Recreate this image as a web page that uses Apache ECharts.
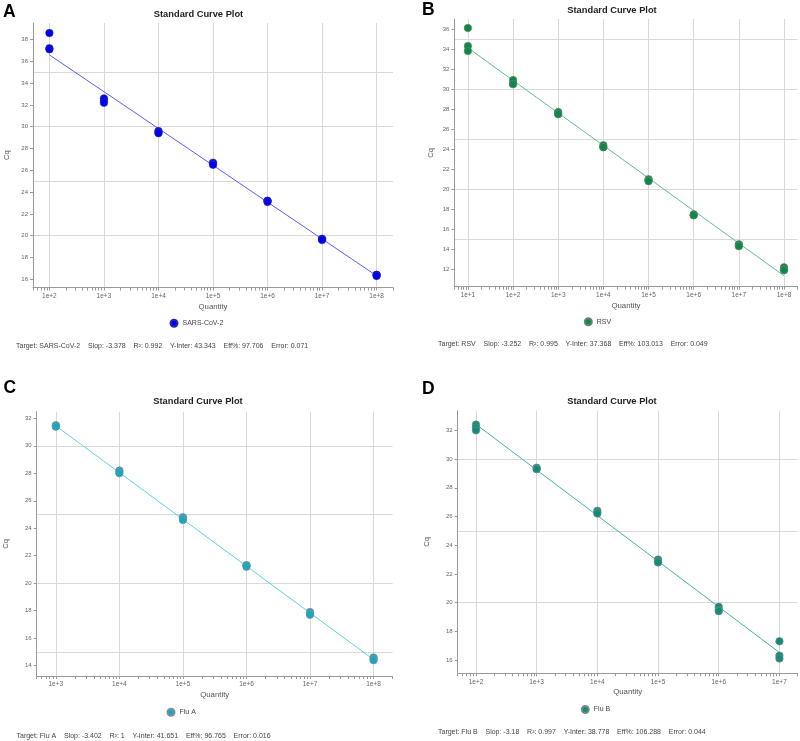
<!DOCTYPE html>
<html><head><meta charset="utf-8">
<script src="https://cdn.jsdelivr.net/npm/echarts@6/dist/echarts.min.js"></script>
<style>html,body{margin:0;padding:0;background:#fff}#c{width:800px;height:741px}</style>
</head><body><div id="c"></div>
<script>
// ---------- DATA ----------
// Panel A: SARS-CoV-2
const qtyA = [1e2,1e2,1e2, 1e3,1e3,1e3, 1e4,1e4,1e4, 1e5,1e5,1e5, 1e6,1e6,1e6, 1e7,1e7,1e7, 1e8,1e8,1e8];
const cqA  = [38.6,37.2,37.1, 32.6,32.4,32.2, 29.6,29.5,29.4, 26.7,26.6,26.5, 23.2,23.2,23.1, 19.7,19.7,19.6, 16.4,16.4,16.3];
const fitQtyA = [1e2, 1e8];
const fitCqA  = [36.59, 16.32];
const statsA = ['Target: SARS-CoV-2','Slop: -3.378','R²: 0.992','Y-Inter: 43.343','Eff%: 97.706','Error: 0.071'];
const xTicksA = [1e2,1e3,1e4,1e5,1e6,1e7,1e8];
const yTicksA = [16,18,20,22,24,26,28,30,32,34,36,38];

// Panel B: RSV
const qtyB = [1e1,1e1,1e1, 1e2,1e2,1e2, 1e3,1e3,1e3, 1e4,1e4,1e4, 1e5,1e5,1e5, 1e6,1e6,1e6, 1e7,1e7,1e7, 1e8,1e8,1e8];
const cqB  = [36.1,34.3,33.8, 30.9,30.5,30.5, 27.7,27.5,27.5, 24.4,24.2,24.2, 21.0,20.9,20.8, 17.5,17.4,17.4, 14.5,14.4,14.3, 12.2,12.0,11.9];
const fitQtyB = [1e1, 1e8];
const fitCqB  = [34.12, 11.35];
const statsB = ['Target: RSV','Slop: -3.252','R²: 0.995','Y-Inter: 37.368','Eff%: 103.013','Error: 0.049'];
const xTicksB = [1e1,1e2,1e3,1e4,1e5,1e6,1e7,1e8];
const yTicksB = [12,14,16,18,20,22,24,26,28,30,32,34,36];

// Panel C: Flu A
const qtyC = [1e3,1e3,1e3, 1e4,1e4,1e4, 1e5,1e5,1e5, 1e6,1e6,1e6, 1e7,1e7,1e7, 1e8,1e8,1e8];
const cqC  = [31.5,31.4,31.4, 28.2,28.1,28.0, 24.8,24.7,24.6, 21.3,21.3,21.2, 17.9,17.8,17.7, 14.6,14.5,14.4];
const fitQtyC = [1e3, 1e8];
const fitCqC  = [31.45, 14.44];
const statsC = ['Target: Flu A','Slop: -3.402','R²: 1','Y-Inter: 41.651','Eff%: 96.765','Error: 0.016'];
const xTicksC = [1e3,1e4,1e5,1e6,1e7,1e8];
const yTicksC = [14,16,18,20,22,24,26,28,30,32];

// Panel D: Flu B
const qtyD = [1e2,1e2,1e2, 1e3,1e3,1e3, 1e4,1e4,1e4, 1e5,1e5,1e5, 1e6,1e6,1e6, 1e7,1e7,1e7];
const cqD  = [32.4,32.2,32.0, 29.4,29.3,29.3, 26.4,26.3,26.2, 23.0,22.9,22.8, 19.7,19.5,19.4, 17.3,16.3,16.1];
const fitQtyD = [1e2, 1e7];
const fitCqD  = [32.42, 16.52];
const statsD = ['Target: Flu B','Slop: -3.18','R²: 0.997','Y-Inter: 38.778','Eff%: 106.288','Error: 0.044'];
const xTicksD = [1e2,1e3,1e4,1e5,1e6,1e7];
const yTicksD = [16,18,20,22,24,26,28,30,32];

const gridLinesY = [15,20,25,30,35];

// ---------- LAYOUT / STYLE ----------
const FONT = '"Liberation Sans", Arial, sans-serif';
const panels = [
  {letter:'A', name:'SARS-CoV-2', qty:qtyA, cq:cqA, fq:fitQtyA, fc:fitCqA, stats:statsA, xt:xTicksA, yt:yTicksA,
   grid:{left:33, top:23, width:360, height:264.5}, xMin:50, xMax:2e8, yMin:15.24, yMax:39.52,
   color:'#0000f0', border:'#2a2ab0', line:'#5c5cff', tx:198.5, ty:14, lx:3, ly:12, cqGap:22, leg:[169.5,318.7], foot:[16,346]},
  {letter:'B', name:'RSV', qty:qtyB, cq:cqB, fq:fitQtyB, fc:fitCqB, stats:statsB, xt:xTicksB, yt:yTicksB,
   grid:{left:454.3, top:19, width:343.3, height:267.7}, xMin:5, xMax:2e8, yMin:10.26, yMax:37.0,
   color:'#0b8a45', border:'#6f7f75', line:'#62c18f', tx:612, ty:10, lx:422, ly:10, cqGap:19.5, leg:[583.8,317.3], foot:[438,344]},
  {letter:'C', name:'Flu A', qty:qtyC, cq:cqC, fq:fitQtyC, fc:fitCqC, stats:statsC, xt:xTicksC, yt:yTicksC,
   grid:{left:36.7, top:411.7, width:356, height:264.3}, xMin:500, xMax:2e8, yMin:13.25, yMax:32.48,
   color:'#17a8bf', border:'#7f8f93', line:'#5fd2e2', tx:198, ty:401.7, lx:3.5, ly:388.5, cqGap:26.5, leg:[166.5,707.7], foot:[16.5,735.7]},
  {letter:'D', name:'Flu B', qty:qtyD, cq:cqD, fq:fitQtyD, fc:fitCqD, stats:statsD, xt:xTicksD, yt:yTicksD,
   grid:{left:457.7, top:410.7, width:340, height:262.6}, xMin:50, xMax:2e7, yMin:15.07, yMax:33.37,
   color:'#0f8c7a', border:'#7a8a86', line:'#45b4a5', tx:612, ty:401, lx:422, ly:388.7, cqGap:26.5, leg:[580.8,705], foot:[438,732]}
];

function minorTicks(min, max) {
  const out = [];
  for (let e = Math.floor(Math.log10(min)); e <= Math.ceil(Math.log10(max)); e++) {
    for (let k = 1; k <= 9; k++) {
      const v = k * Math.pow(10, e);
      if (v >= min * 0.9999 && v <= max * 1.0001) out.push(v);
    }
  }
  return out;
}

const option = {
  animation: false,
  backgroundColor: '#fff',
  textStyle: {fontFamily: FONT},
  grid: [], xAxis: [], yAxis: [], series: [], legend: [], graphic: []
};

panels.forEach((p, i) => {
  option.grid.push(Object.assign({containLabel:false}, p.grid));
  const axisLineStyle = {color:'#9a9a9a', width:1};
  option.xAxis.push({
    type:'log', gridIndex:i, min:p.xMin, max:p.xMax, position:'bottom',
    name:'Quantity', nameLocation:'middle', nameGap:15,
    nameTextStyle:{fontSize:7.8, color:'#555', fontFamily:FONT},
    axisLine:{show:true, lineStyle:axisLineStyle},
    axisTick:{show:true, length:3, inside:false, lineStyle:{color:'#9a9a9a'}, customValues:minorTicks(p.xMin, p.xMax)},
    axisLabel:{show:true, customValues:p.xt, margin:5, fontSize:6.5, color:'#666', fontFamily:FONT,
      formatter: v => '1e+' + Math.round(Math.log10(v))},
    splitLine:{show:false}
  });
  option.xAxis.push({
    type:'log', gridIndex:i, min:p.xMin, max:p.xMax, position:'bottom',
    axisLine:{show:false}, axisLabel:{show:false, customValues:p.xt},
    axisTick:{show:false, customValues:p.xt},
    splitLine:{show:true, lineStyle:{color:'#d9d9d9', width:1}}
  });
  option.yAxis.push({
    type:'value', gridIndex:i, min:p.yMin, max:p.yMax,
    name:'Cq', nameLocation:'middle', nameGap:p.cqGap, nameRotate:90,
    nameTextStyle:{fontSize:7.6, color:'#555', fontFamily:FONT},
    axisLine:{show:true, lineStyle:axisLineStyle},
    axisTick:{show:true, length:3, lineStyle:{color:'#9a9a9a'}, customValues:p.yt},
    axisLabel:{show:true, customValues:p.yt, margin:5, fontSize:6, color:'#666', fontFamily:FONT},
    splitLine:{show:false}
  });
  const gl = gridLinesY.filter(v => v > p.yMin && v < p.yMax);
  option.yAxis.push({
    type:'value', gridIndex:i, min:p.yMin, max:p.yMax,
    axisLine:{show:false}, axisLabel:{show:false, customValues:gl},
    axisTick:{show:false, customValues:gl},
    splitLine:{show:true, lineStyle:{color:'#d9d9d9', width:1}}
  });
  option.series.push({
    type:'line', name:p.name + ' fit', xAxisIndex:2*i, yAxisIndex:2*i,
    data:p.fq.map((q, k) => [q, p.fc[k]]), symbol:'none',
    lineStyle:{color:p.line, width:1}, silent:true, z:2
  });
  option.series.push({
    type:'scatter', name:p.name, xAxisIndex:2*i, yAxisIndex:2*i,
    data:p.qty.map((q, k) => [q, p.cq[k]]), symbol:'circle', symbolSize:7.5,
    itemStyle:{color:p.color, borderColor:p.border, borderWidth:0.6, opacity:1}, z:3
  });
  option.legend.push({
    data:[{name:p.name, icon:'circle'}], left:p.leg[0], top:p.leg[1], padding:0,
    itemWidth:7, itemHeight:7, itemGap:4, selectedMode:false,
    textStyle:{fontSize:7, color:'#444', fontFamily:FONT}
  });
  option.graphic.push({type:'text', x:p.lx, y:p.ly, style:{text:p.letter, fill:'#000',
    font:'bold 17.5px ' + FONT, textVerticalAlign:'middle', verticalAlign:'middle'}});
  option.graphic.push({type:'text', x:p.tx, y:p.ty, style:{text:'Standard Curve Plot', fill:'#222',
    font:'bold 9.3px ' + FONT, textAlign:'center', align:'center', textVerticalAlign:'middle', verticalAlign:'middle'}});
  option.graphic.push({type:'text', x:p.foot[0], y:p.foot[1], style:{text:p.stats.join('    '), fill:'#444',
    font:'7px ' + FONT, textVerticalAlign:'middle', verticalAlign:'middle'}});
});

const chart = echarts.init(document.getElementById('c'), null, {renderer:'canvas'});
chart.setOption(option);
</script>
</body></html>
